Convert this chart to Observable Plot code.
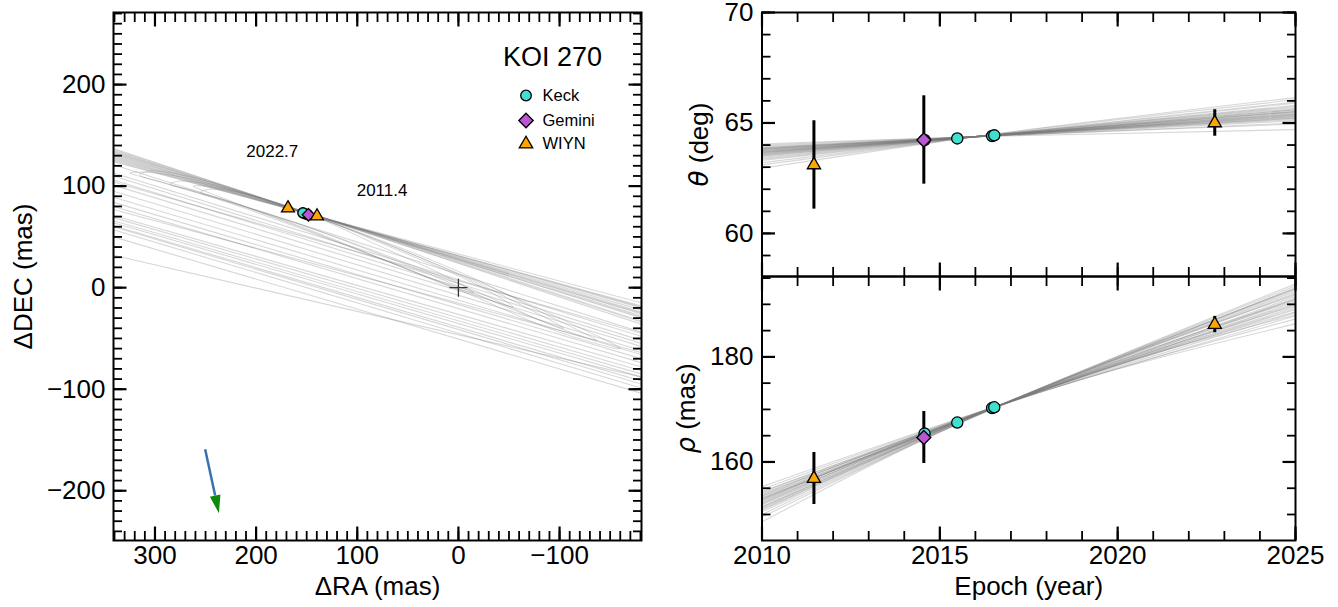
<!DOCTYPE html>
<html><head><meta charset="utf-8">
<script src="https://cdn.jsdelivr.net/npm/d3@7"></script>
<script src="https://cdn.jsdelivr.net/npm/@observablehq/plot@0.6"></script>
<style>
body{margin:0;background:#fff;color:#000;}
#fig{position:relative;width:1338px;height:607px;overflow:hidden;background:#fff;}
#fig svg{position:absolute;}
</style></head><body><div id="fig"></div>
<script>
// ---------------- DATA ----------------
// Keck
const keckEpoch = [2014.57, 2015.49, 2016.47, 2016.53];
const keckTheta = [64.23, 64.30, 64.41, 64.44];
const keckRho   = [165.4, 167.5, 170.25, 170.4];
const keckRA    = [149.0, 151.0, 153.5, 153.8];
const keckDec   = [71.9, 72.6, 73.5, 73.8];
// Gemini
const geminiEpoch = [2014.55];
const geminiTheta = [64.23];
const geminiThetaErr = [2.0];
const geminiRho = [164.65];
const geminiRhoErr = [4.95];
const geminiRA = [148.3];
const geminiDec = [71.8];
// WIYN
const wiynEpoch = [2011.46, 2022.73];
const wiynTheta = [63.1, 65.0];
const wiynThetaErr = [2.0, 0.6];
const wiynRho = [156.85, 186.15];
const wiynRhoErr = [4.95, 1.55];
const wiynRA = [139.8, 168.5];
const wiynDec = [70.4, 78.3];

// orbit tracks in the sky plane: DEC where each track meets the left (RA=341) and right (RA=-181) frame edges
const trackEdgeRA = [341, -181];
const trackDecAtLeft  = [137, 136, 135, 134, 133, 132, 131, 130, 129, 128, 127, 126, 125, 124,
                         121, 113, 110, 106, 104, 101, 95, 89, 84, 80, 77, 71, 69, 66, 64, 61, 60, 57, 50, 32];
const trackDecAtRight = [-36, -33, -34, -30, -28, -29, -26, -24, -25, -22, -20, -19, -18, -15,
                         -44, -48, -52, -55, -45, -58, -62, -66, -70, -74, -64, -78, -82, -85, -88, -92, -95, -99, -104, -88];
// thin orbit ellipses (RA, DEC)
const loopA = [[-15,-5],[10,10],[80,42],[150,73],[240,101],[300,113],[325,113],[305,107],[240,88],[150,56],[60,22],[5,0]];
const loopB = [[-54,-19],[-20,2],[60,37],[150,73],[215,93],[245,97],[255,94],[230,86],[150,58],[60,22],[-20,-8]];
const loopC = [[-104,-40],[-60,-16],[20,22],[150,73],[240,100],[275,105],[285,102],[260,95],[150,60],[40,18],[-60,-24]];
const loopD = [[-137,-52],[-90,-28],[0,16],[150,73],[260,108],[305,115],[315,111],[290,103],[150,60],[0,4],[-90,-36]];
const loopE = [[-160,-60],[-100,-30],[0,14],[150,73],[230,97],[262,100],[240,91],[150,57],[0,-2],[-100,-44]];

// primary star, motion arrow, epoch labels
const primaryRA = [0], primaryDec = [0];
const motionStart = [250.4, -159.2];
const motionEnd   = [240.5, -204.7];
const noteLabels = ["2022.7", "2011.4"];
const noteRA  = [184, 75.5];
const noteDec = [134.5, 96];

// model curves, position angle
const modelEpochTheta = [2010, 2016, 2025];
const thetaAt2010 = [63.55,63.6,63.65,63.7,63.75,63.8,63.85,63.9,63.5,63.45,63.62,63.68,63.72,63.78,63.82,63.58,63.52,63.4,63.35,63.88,63.95,64.0,64.05,63.3,63.2,63.1,62.95,63.66,63.74,63.84];
const thetaAt2016 = [64.38,64.39,64.38,64.37,64.38,64.39,64.38,64.37,64.38,64.39,64.38,64.38,64.37,64.38,64.39,64.38,64.37,64.39,64.38,64.38,64.37,64.39,64.38,64.37,64.38,64.39,64.38,64.38,64.37,64.38];
const thetaAt2025 = [65.6,65.55,65.5,65.4,65.35,65.3,65.2,65.1,65.65,65.7,65.45,65.5,65.38,65.25,65.28,65.52,65.6,65.75,65.8,65.15,65.0,64.95,64.7,65.9,65.95,66.05,66.15,65.42,65.33,65.22];
// model curves, separation
const modelEpochRho = [2010, 2016.5, 2025];
const rhoAt2010 = [151.0,151.5,152.0,152.5,153.0,153.5,154.0,154.4,150.5,150.0,151.2,151.8,152.3,152.8,153.3,153.8,154.2,154.8,155.3,149.5,148.6,152.6,153.6,151.4,152.1,150.8,153.1,152.9];
const rhoAt2016 = [170.3,170.3,170.3,170.3,170.3,170.3,170.3,170.3,170.2,170.2,170.3,170.3,170.3,170.3,170.3,170.4,170.4,170.4,170.4,170.2,170.1,170.3,170.3,170.2,170.3,170.2,170.3,170.3];
const rhoAt2025 = [193.5,193.0,192.5,192.0,191.5,191.0,190.5,190.0,193.9,193.0,192.8,192.2,191.2,190.8,190.2,189.5,189.0,188.4,187.8,191.8,188.0,186.3,187.2,189.8,188.6,191.0,193.2,189.2];

// ticks
const raMajor = [300, 200, 100, 0, -100];
const decMajor = [200, 100, 0, -100, -200];
const epochMajor = [2010, 2015, 2020, 2025];
const thetaMajor = [60, 65, 70];
const rhoMajor = [160, 180];

// ---------------- BUILD ----------------
const FONT = '"Liberation Sans", Arial, Helvetica, sans-serif';
const GRAY = "#7a7a7a", GOP = 0.3;
const C_KECK = "#40E0D0", C_GEM = "#BA55D3", C_WIYN = "#FFA500";
const fmt = d => d < 0 ? "\u2212" + (-d) : String(d);

const keckRows = keckEpoch.map((e,i)=>({epoch:e, theta:keckTheta[i], rho:keckRho[i], ra:keckRA[i], dec:keckDec[i]}));
const gemRows = geminiEpoch.map((e,i)=>({epoch:e, theta:geminiTheta[i], terr:geminiThetaErr[i], rho:geminiRho[i], rerr:geminiRhoErr[i], ra:geminiRA[i], dec:geminiDec[i]}));
const wiynRows = wiynEpoch.map((e,i)=>({epoch:e, theta:wiynTheta[i], terr:wiynThetaErr[i], rho:wiynRho[i], rerr:wiynRhoErr[i], ra:wiynRA[i], dec:wiynDec[i]}));
const errRows = [...gemRows, ...wiynRows];

const tracks = trackDecAtLeft.map((d,i)=>({x1:trackEdgeRA[0], y1:d, x2:trackEdgeRA[1], y2:trackDecAtRight[i]}));
const loopRows = [loopA, loopB, loopC, loopD, loopE].flatMap((L,k)=>L.map(p=>({loop:k, ra:p[0], dec:p[1]})));
const primary = primaryRA.map((r,i)=>({ra:r, dec:primaryDec[i]}));
const motion = [{ra1:motionStart[0], dec1:motionStart[1], ra2:motionEnd[0], dec2:motionEnd[1]}];
const notes = noteLabels.map((t,i)=>({label:t, ra:noteRA[i], dec:noteDec[i]}));

const thetaModel = thetaAt2010.flatMap((v,i)=>[v, thetaAt2016[i], thetaAt2025[i]].map((t,j)=>({z:i, epoch:modelEpochTheta[j], theta:t})));
const rhoModel = rhoAt2010.flatMap((v,i)=>[v, rhoAt2016[i], rhoAt2025[i]].map((t,j)=>({z:i, epoch:modelEpochRho[j], rho:t})));

const SYM_PLUS = {draw(ctx, size){const r=Math.sqrt(size/Math.PI); ctx.moveTo(-r,0); ctx.lineTo(r,0); ctx.moveTo(0,-r); ctx.lineTo(0,r);}};
const SYM_HEAD = {draw(ctx, size){const r=Math.sqrt(size/Math.PI); ctx.moveTo(0,-2*r); ctx.lineTo(0.6*r,0); ctx.lineTo(-0.6*r,0); ctx.closePath();}};

const MAJ = 13.5, MIN = 9;
function inwardTicks(xMaj, xMin, yMaj, yMin) {
  const m = [];
  const sets = [[xMin, MIN, 1.8], [xMaj, MAJ, 2.2]];
  for (const [t, L, w] of sets) {
    m.push(Plot.axisX(t, {anchor:"bottom", tickSize:L, dy:-L, fill:"none", label:null, stroke:"black", strokeWidth:w}));
    m.push(Plot.axisX(t, {anchor:"top", tickSize:L, dy:L, fill:"none", label:null, stroke:"black", strokeWidth:w}));
  }
  const ysets = [[yMin, MIN, 1.8], [yMaj, MAJ, 2.2]];
  for (const [t, L, w] of ysets) {
    m.push(Plot.axisY(t, {anchor:"left", tickSize:L, dx:L, fill:"none", label:null, stroke:"black", strokeWidth:w}));
    m.push(Plot.axisY(t, {anchor:"right", tickSize:L, dx:-L, fill:"none", label:null, stroke:"black", strokeWidth:w}));
  }
  return m;
}
const styleBase = {background:"transparent", fontFamily:FONT, overflow:"visible", color:"black"};

function markers(xk, yk, rs) {
  return [
    Plot.dot(keckRows, {x:xk, y:yk, symbol:"circle", r:rs[0], fill:C_KECK, stroke:"black", strokeWidth:1.3}),
    Plot.dot(gemRows, {x:xk, y:yk, symbol:"diamond2", r:rs[1], fill:C_GEM, stroke:"black", strokeWidth:1.3}),
    Plot.dot(wiynRows, {x:xk, y:yk, symbol:"triangle", r:rs[2], fill:C_WIYN, stroke:"black", strokeWidth:1.3})
  ];
}
const T = (s, o) => Plot.text([s], {textAnchor:"middle", lineAnchor:"middle", ...o});

// ---- left: sky plane ----
const leftPlot = Plot.plot({
  width:660, height:607, marginLeft:113, marginRight:19, marginTop:12, marginBottom:67,
  x:{domain:[341,-181]}, y:{domain:[-249,271]},
  style:styleBase,
  marks:[
    Plot.link(tracks, {x1:"x1", y1:"y1", x2:"x2", y2:"y2", stroke:GRAY, strokeOpacity:GOP, strokeWidth:1.1, clip:true}),
    Plot.line(loopRows, {x:"ra", y:"dec", z:"loop", curve:"catmull-rom-closed", stroke:GRAY, strokeOpacity:GOP, strokeWidth:1, clip:true}),
    Plot.dot(primary, {x:"ra", y:"dec", symbol:SYM_PLUS, r:9, fill:"none", stroke:"#333", strokeWidth:1.3}),
    Plot.link(motion, {x1:"ra1", y1:"dec1", x2:"ra2", y2:"dec2", stroke:"#3a72b0", strokeWidth:2.5}),
    Plot.dot(motion, {x:"ra2", y:"dec2", symbol:SYM_HEAD, r:9, rotate:168, fill:"#0b8a0b", stroke:"none"}),
    Plot.text(notes, {x:"ra", y:"dec", text:"label", fontSize:17}),
    ...markers("ra","dec",[5,5.6,4.8]),
    // legend + title
    T("KOI 270", {frameAnchor:"top-right", dx:-89, dy:44.6, fontSize:27}),
    Plot.dot([0], {frameAnchor:"top-right", dx:-115.5, dy:83, symbol:"circle", r:5.3, fill:C_KECK, stroke:"black", strokeWidth:1.3}),
    Plot.dot([0], {frameAnchor:"top-right", dx:-115.5, dy:108, symbol:"diamond2", r:6.5, fill:C_GEM, stroke:"black", strokeWidth:1.3}),
    Plot.dot([0], {frameAnchor:"top-right", dx:-115.5, dy:131.5, symbol:"triangle", r:5, fill:C_WIYN, stroke:"black", strokeWidth:1.3}),
    T("Keck", {frameAnchor:"top-right", dx:-99, dy:83, textAnchor:"start", fontSize:16.5}),
    T("Gemini", {frameAnchor:"top-right", dx:-99, dy:108, textAnchor:"start", fontSize:16.5}),
    T("WIYN", {frameAnchor:"top-right", dx:-99, dy:131.5, textAnchor:"start", fontSize:16.5}),
    // axis titles
    T("\u0394RA (mas)", {frameAnchor:"bottom", dy:46, fontSize:26}),
    T("\u0394DEC (mas)", {frameAnchor:"left", dx:-89.4, rotate:-90, fontSize:26}),
    // tick labels
    Plot.axisX(raMajor, {anchor:"bottom", tickSize:0, tickPadding:5, tickFormat:fmt, label:null, fontSize:26}),
    Plot.axisY(decMajor, {anchor:"left", tickSize:0, tickPadding:8, tickFormat:fmt, label:null, fontSize:26}),
    ...inwardTicks(raMajor, d3.range(-180, 341, 10), decMajor, d3.range(-240, 271, 10)),
    Plot.frame({stroke:"black", strokeWidth:2})
  ]
});
leftPlot.style.left = "0px"; leftPlot.style.top = "0px";

// ---- right top: position angle ----
const topPlot = Plot.plot({
  width:678, height:280, marginLeft:101.5, marginRight:43, marginTop:12, marginBottom:4,
  x:{domain:[2010,2025]}, y:{domain:[58.05,70]},
  style:styleBase,
  marks:[
    Plot.line(thetaModel, {x:"epoch", y:"theta", z:"z", curve:"monotone-x", stroke:GRAY, strokeOpacity:GOP, strokeWidth:1.1, clip:true}),
    Plot.ruleX(errRows, {x:"epoch", y1:d=>d.theta-d.terr, y2:d=>d.theta+d.terr, stroke:"black", strokeWidth:3}),
    ...markers("epoch","theta",[5.6,6.3,4.9]),
    T("\u03b8 (deg)", {frameAnchor:"left", dx:-62, rotate:-90, fontSize:26}),
    Plot.axisY(thetaMajor, {anchor:"left", tickSize:0, tickPadding:8.5, tickFormat:fmt, label:null, fontSize:26}),
    ...inwardTicks(epochMajor, d3.range(2010, 2026, 1), thetaMajor, d3.range(59, 71, 1)),
    Plot.frame({stroke:"black", strokeWidth:2})
  ]
});
topPlot.style.left = "660px"; topPlot.style.top = "0px";

// ---- right bottom: separation ----
const botPlot = Plot.plot({
  width:678, height:337, marginLeft:101.5, marginRight:43, marginTop:6, marginBottom:67,
  x:{domain:[2010,2025]}, y:{domain:[145.05,195.3]},
  style:styleBase,
  marks:[
    Plot.line(rhoModel, {x:"epoch", y:"rho", z:"z", curve:"monotone-x", stroke:GRAY, strokeOpacity:GOP, strokeWidth:1.1, clip:true}),
    Plot.ruleX(errRows, {x:"epoch", y1:d=>d.rho-d.rerr, y2:d=>d.rho+d.rerr, stroke:"black", strokeWidth:3}),
    ...markers("epoch","rho",[5.6,6.3,4.9]),
    T("\u03c1 (mas)", {frameAnchor:"left", dx:-75, rotate:-90, fontSize:26}),
    T("Epoch (year)", {frameAnchor:"bottom", dy:46, fontSize:26}),
    Plot.axisX(epochMajor, {anchor:"bottom", tickSize:0, tickPadding:5, tickFormat:fmt, label:null, fontSize:26}),
    Plot.axisY(rhoMajor, {anchor:"left", tickSize:0, tickPadding:8.5, tickFormat:fmt, label:null, fontSize:26}),
    ...inwardTicks(epochMajor, d3.range(2010, 2026, 1), rhoMajor, d3.range(150, 196, 5)),
    Plot.frame({stroke:"black", strokeWidth:2})
  ]
});
botPlot.style.left = "660px"; botPlot.style.top = "270px";

const fig = document.getElementById("fig");
fig.appendChild(leftPlot); fig.appendChild(topPlot); fig.appendChild(botPlot);

// italic Greek letters in axis titles
for (const svg of [topPlot, botPlot]) {
  for (const t of svg.querySelectorAll("text")) {
    const s = t.textContent;
    if (s === "\u03b8 (deg)" || s === "\u03c1 (mas)") {
      t.textContent = "";
      const g = document.createElementNS("http://www.w3.org/2000/svg", "tspan");
      g.setAttribute("font-style", "italic");
      g.setAttribute("font-family", '"DejaVu Sans", sans-serif');
      g.textContent = s[0];
      const r = document.createElementNS("http://www.w3.org/2000/svg", "tspan");
      r.textContent = s.slice(1);
      t.appendChild(g); t.appendChild(r);
    }
  }
}
</script></body></html>
